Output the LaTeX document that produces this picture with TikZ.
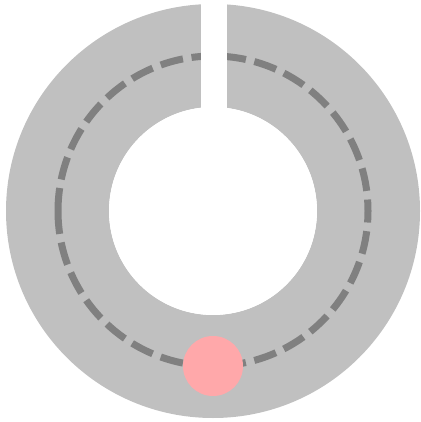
\documentclass[tikz,border=0pt]{standalone}
\usetikzlibrary{calc}
\definecolor{trackgray}{RGB}{192,192,192}
\definecolor{lanegray}{RGB}{128,128,128}
\definecolor{carpink}{RGB}{255,168,170}

\begin{document}
\begin{tikzpicture}[x=0.05cm, y=-0.05cm, track/.style={fill=trackgray, even odd rule}, lane/.style={draw=lanegray, line width=0.35cm, dash pattern=on 1.15cm off 0.435cm}, car/.style={circle, fill=carpink, inner sep=0pt, minimum size=3cm}]
        % Define the radii of the track
        \def\outr{207}
        \def\innr{104}
        \def\laner{155}
        \useasboundingbox (0,0) rectangle (421,422);

        % Centre of the track
        \coordinate (c) at (213,211);

        % Draw the grey ring
        \fill[track] (c) circle[radius=\outr] (c) circle[radius=\innr];

        % Draw the dashed middle lane, starting on the left
        \coordinate (lanestart) at ($(c)+(-\laner,0)$);
        \draw[lane] (lanestart) arc[start angle=180, end angle=-180, radius=\laner];

        % Cut the gap at the top
        \coordinate (gapa) at (201,0);
        \coordinate (gapb) at (227,211);
        \fill[white] (gapa) rectangle (gapb);
        \fill[white] (c) circle[radius=\innr];

        % Draw the pink marker on the lane
        \node[car] (marker) at (213,366) {};
      \end{tikzpicture}
\end{document}
